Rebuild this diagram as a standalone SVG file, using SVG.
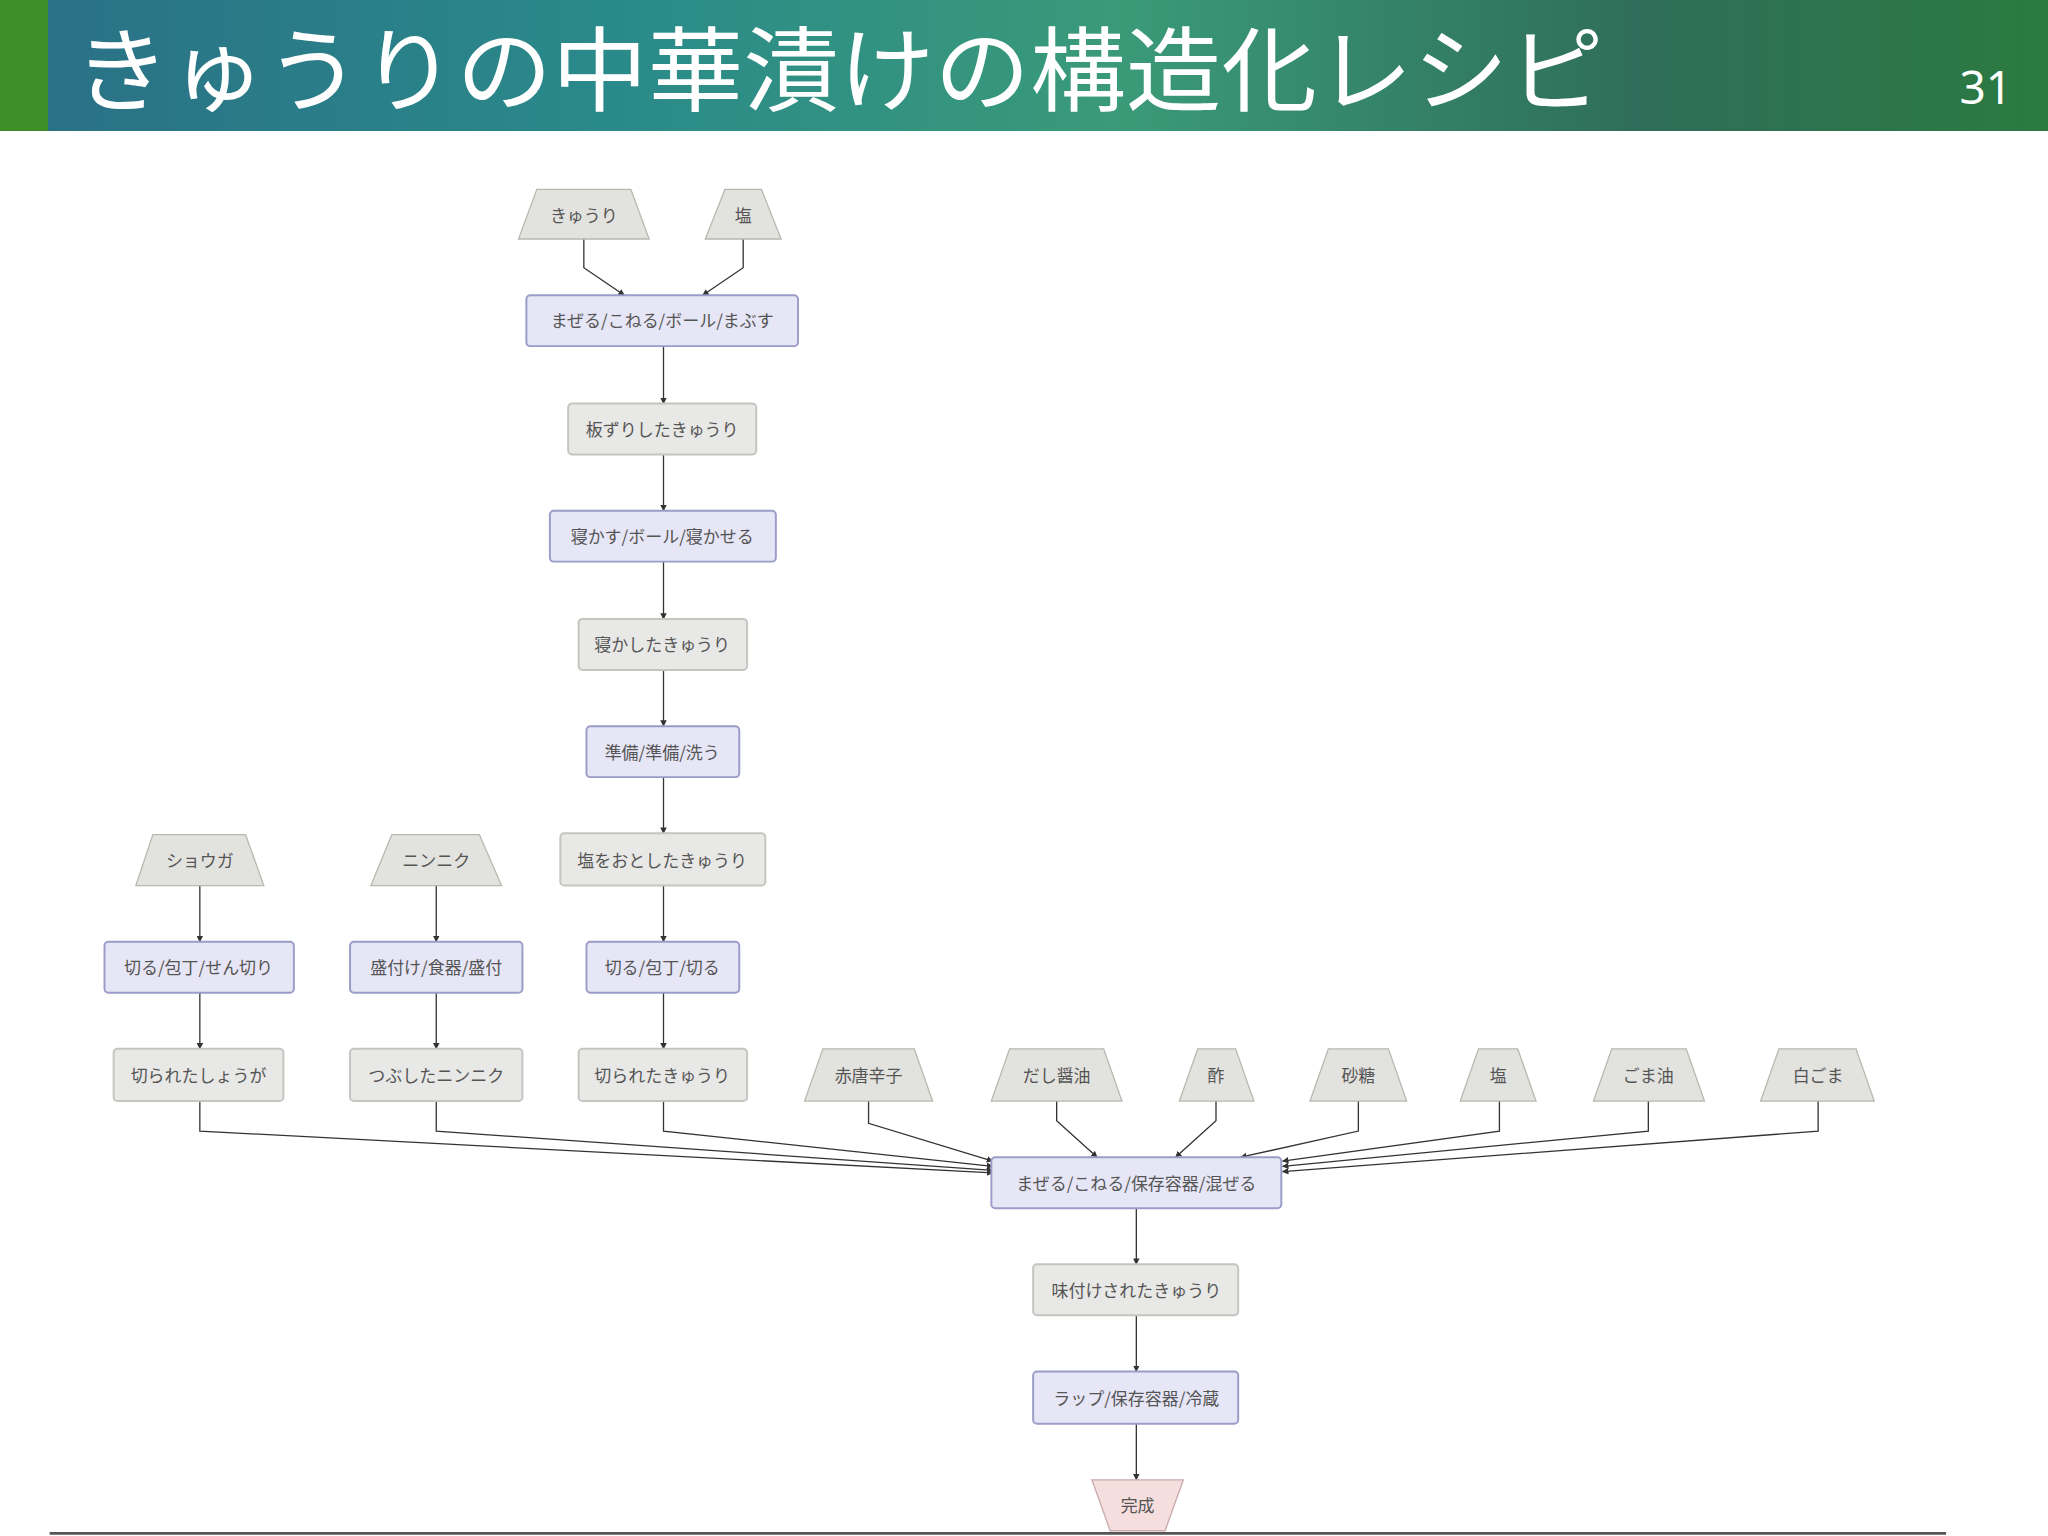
<svg xmlns="http://www.w3.org/2000/svg" width="2048" height="1536" viewBox="0 0 2048 1536">
<defs>
<linearGradient id="hd" x1="0" y1="0" x2="1" y2="0">
<stop offset="0" stop-color="#2a6f86"/><stop offset="0.3" stop-color="#2a8a8a"/><stop offset="0.55" stop-color="#3a9a78"/><stop offset="0.8" stop-color="#2f6e5a"/><stop offset="1" stop-color="#2a7a40"/>
</linearGradient>
<marker id="ar" viewBox="0 0 10 10" refX="9" refY="5" markerWidth="5" markerHeight="5" orient="auto"><path d="M0,0 L10,5 L0,10 z" fill="#333"/></marker>
<style>
.in{fill:#e2e2de;stroke:#b8b8b0;stroke-width:1}
.pr{fill:#e6e6f6;stroke:#9c9cc8;stroke-width:1.5}
.st{fill:#e8e8e6;stroke:#c4c4c0;stroke-width:1.5}
.fin{fill:#f6dede;stroke:#c8aaaa;stroke-width:1}
.t{font-family:"Noto Sans CJK JP",sans-serif;font-size:13px;fill:#555;text-anchor:middle;dominant-baseline:central}
.e{fill:none;stroke:#333;stroke-width:1;marker-end:url(#ar)}
</style>
</defs>
<rect width="2048" height="1536" fill="#fff"/>
<rect x="0" y="0" width="2048" height="131" fill="url(#hd)"/>
<rect x="0" y="0" width="48" height="131" fill="#3e8e2a"/>
<text x="74" y="104" font-family="'Noto Sans CJK JP',sans-serif" font-size="92" fill="#fff" textLength="1530" lengthAdjust="spacingAndGlyphs">きゅうりの中華漬けの構造化レシピ</text>
<text x="2012" y="104" font-family="'Noto Sans',sans-serif" font-size="46" fill="#fff" text-anchor="end">31</text>
<g transform="scale(1.30612)">
<g id="connectors">
<path class="e" d="M447,183 V205 L478,226"/>
<path class="e" d="M569,183 V205 L538,226"/>
<path class="e" d="M508,265 V309"/>
<path class="e" d="M508,348 V391"/>
<path class="e" d="M508,430 V474"/>
<path class="e" d="M508,513 V556"/>
<path class="e" d="M508,595 V638"/>
<path class="e" d="M508,678 V721"/>
<path class="e" d="M508,760 V803"/>
<path class="e" d="M153,678 V721"/>
<path class="e" d="M153,760 V803"/>
<path class="e" d="M334,678 V721"/>
<path class="e" d="M334,760 V803"/>
<path class="e" d="M153,843 V866 L760,898"/>
<path class="e" d="M334,843 V866 L760,896"/>
<path class="e" d="M508,843 V866 L760,893"/>
<path class="e" d="M665,843 V860 L760,889"/>
<path class="e" d="M809,843 V858 L840,886"/>
<path class="e" d="M931,843 V858 L900,886"/>
<path class="e" d="M1040,843 V866 L950,886"/>
<path class="e" d="M1148,843 V866 L982,889"/>
<path class="e" d="M1262,843 V866 L982,893"/>
<path class="e" d="M1392,843 V866 L982,897"/>
<path class="e" d="M870,925 V968"/>
<path class="e" d="M870,1007 V1050"/>
<path class="e" d="M870,1090 V1133"/>
</g>
<g id="n_kyuri"><polygon class="in" points="411,145 483,145 497,183 397,183"/><text class="t" x="447" y="164">きゅうり</text></g>
<g id="n_shio1"><polygon class="in" points="555,145 583,145 598,183 540,183"/><text class="t" x="569" y="164">塩</text></g>
<g id="n_p1"><rect class="pr" x="403" y="226" width="208" height="39" rx="3"/><text class="t" x="507" y="245">まぜる/こねる/ボール/まぶす</text></g>
<g id="n_s1"><rect class="st" x="435" y="309" width="144" height="39" rx="3"/><text class="t" x="507" y="328">板ずりしたきゅうり</text></g>
<g id="n_p2"><rect class="pr" x="421" y="391" width="173" height="39" rx="3"/><text class="t" x="507" y="410">寝かす/ボール/寝かせる</text></g>
<g id="n_s2"><rect class="st" x="443" y="474" width="129" height="39" rx="3"/><text class="t" x="507" y="493">寝かしたきゅうり</text></g>
<g id="n_p3"><rect class="pr" x="449" y="556" width="117" height="39" rx="3"/><text class="t" x="507" y="575">準備/準備/洗う</text></g>
<g id="n_s3"><rect class="st" x="429" y="638" width="157" height="40" rx="3"/><text class="t" x="507" y="658">塩をおとしたきゅうり</text></g>
<g id="n_p4"><rect class="pr" x="449" y="721" width="117" height="39" rx="3"/><text class="t" x="507" y="740">切る/包丁/切る</text></g>
<g id="n_s4"><rect class="st" x="443" y="803" width="129" height="40" rx="3"/><text class="t" x="507" y="823">切られたきゅうり</text></g>
<g id="n_shoga"><polygon class="in" points="117,639 188,639 202,678 104,678"/><text class="t" x="153" y="658">ショウガ</text></g>
<g id="n_ninniku"><polygon class="in" points="300,639 367,639 384,678 284,678"/><text class="t" x="334" y="658">ニンニク</text></g>
<g id="n_p5"><rect class="pr" x="80" y="721" width="145" height="39" rx="3"/><text class="t" x="152" y="740">切る/包丁/せん切り</text></g>
<g id="n_p6"><rect class="pr" x="268" y="721" width="132" height="39" rx="3"/><text class="t" x="334" y="740">盛付け/食器/盛付</text></g>
<g id="n_s5"><rect class="st" x="87" y="803" width="130" height="40" rx="3"/><text class="t" x="152" y="823">切られたしょうが</text></g>
<g id="n_s6"><rect class="st" x="268" y="803" width="132" height="40" rx="3"/><text class="t" x="334" y="823">つぶしたニンニク</text></g>
<g id="n_togarashi"><polygon class="in" points="630,803 700,803 714,843 616,843"/><text class="t" x="665" y="823">赤唐辛子</text></g>
<g id="n_dashi"><polygon class="in" points="773,803 845,803 859,843 759,843"/><text class="t" x="809" y="823">だし醤油</text></g>
<g id="n_su"><polygon class="in" points="917,803 946,803 960,843 903,843"/><text class="t" x="931" y="823">酢</text></g>
<g id="n_sato"><polygon class="in" points="1017,803 1063,803 1077,843 1003,843"/><text class="t" x="1040" y="823">砂糖</text></g>
<g id="n_shio2"><polygon class="in" points="1132,803 1162,803 1176,843 1118,843"/><text class="t" x="1147" y="823">塩</text></g>
<g id="n_goma"><polygon class="in" points="1234,803 1291,803 1305,843 1220,843"/><text class="t" x="1262" y="823">ごま油</text></g>
<g id="n_shirogoma"><polygon class="in" points="1362,803 1421,803 1435,843 1348,843"/><text class="t" x="1392" y="823">白ごま</text></g>
<g id="n_p7"><rect class="pr" x="759" y="886" width="222" height="39" rx="3"/><text class="t" x="870" y="905">まぜる/こねる/保存容器/混ぜる</text></g>
<g id="n_s7"><rect class="st" x="791" y="968" width="157" height="39" rx="3"/><text class="t" x="870" y="987">味付けされたきゅうり</text></g>
<g id="n_p8"><rect class="pr" x="791" y="1050" width="157" height="40" rx="3"/><text class="t" x="870" y="1070">ラップ/保存容器/冷蔵</text></g>
<g id="n_fin"><polygon class="fin" points="836,1133 906,1133 892,1172 850,1172"/><text class="t" x="871" y="1152">完成</text></g>
<line x1="38" y1="1174" x2="1490" y2="1174" stroke="#555" stroke-width="2"/>
</g>
</svg>
